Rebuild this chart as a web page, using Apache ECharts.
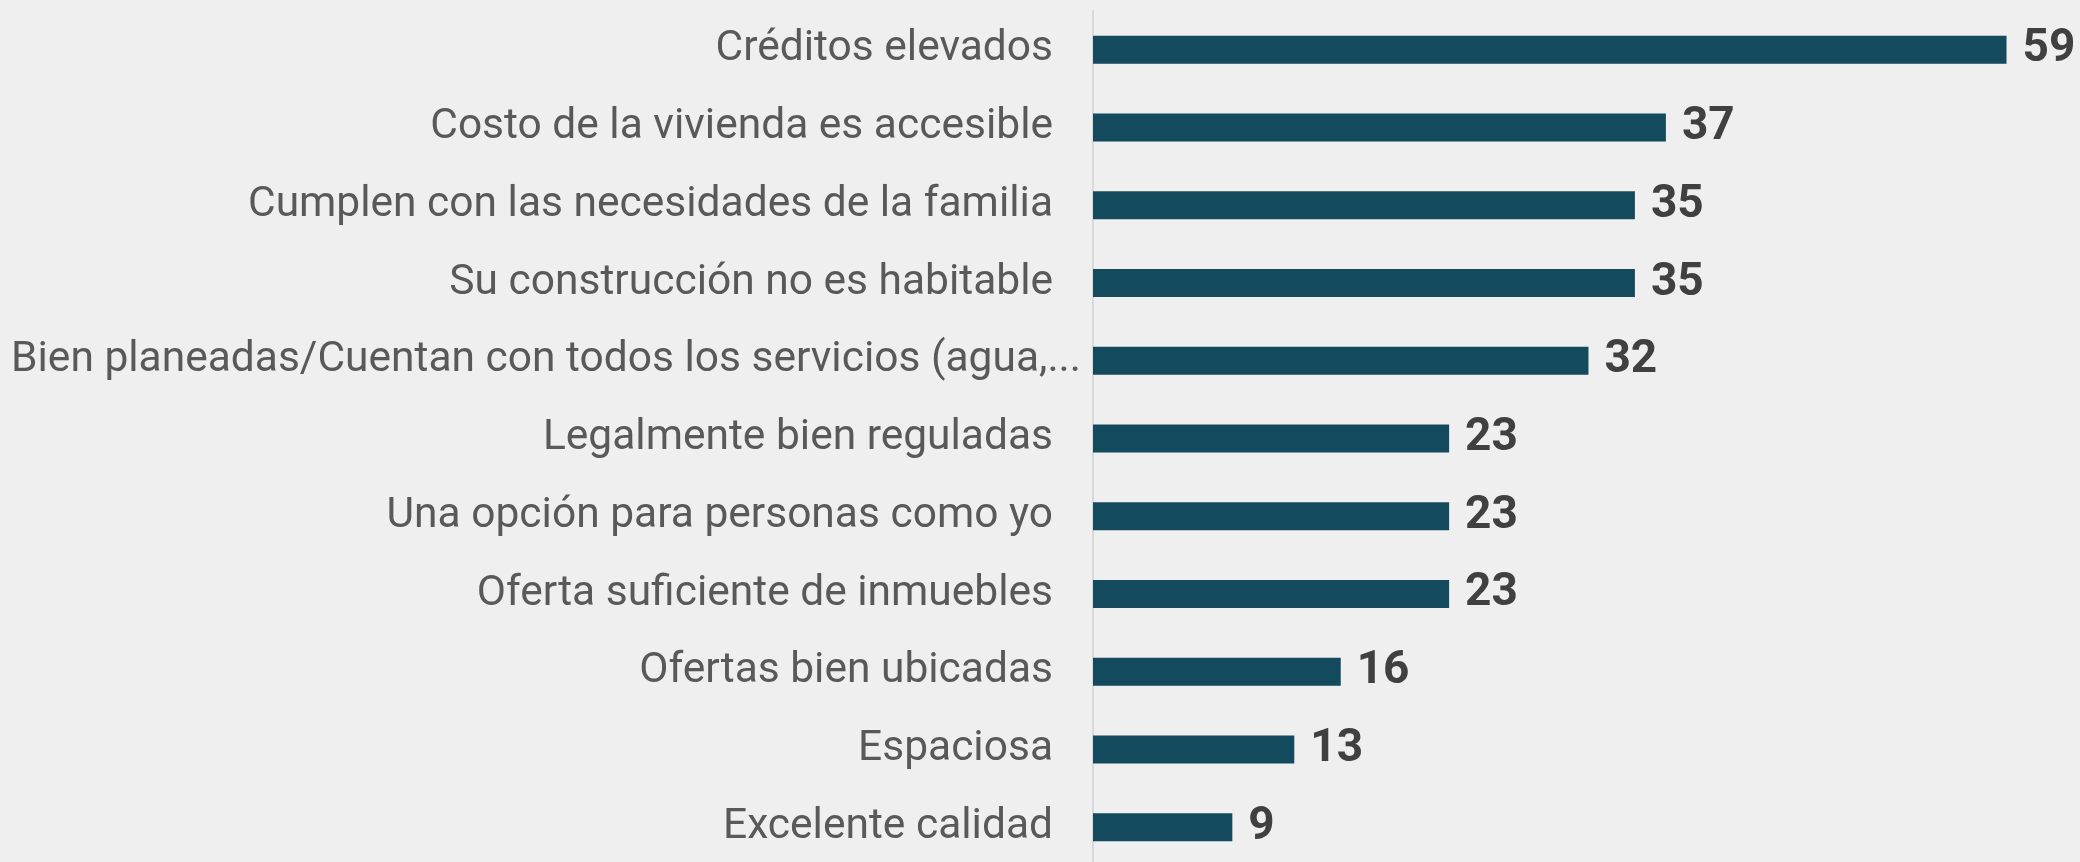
<!DOCTYPE html>
<html>
<head>
<meta charset="utf-8">
<script src="https://cdn.jsdelivr.net/npm/echarts@6/dist/echarts.min.js"></script>
<style>
  html, body { margin: 0; padding: 0; background: #efefef; overflow: hidden; }
  #chart { width: 2080px; height: 866px; }
</style>
</head>
<body>
<div id="chart"></div>
<script>
const categories = [
  'Créditos elevados',
  'Costo de la vivienda es accesible',
  'Cumplen con las necesidades de la familia',
  'Su construcción no es habitable',
  'Bien planeadas/Cuentan con todos los servicios (agua,...',
  'Legalmente bien reguladas',
  'Una opción para personas como yo',
  'Oferta suficiente de inmuebles',
  'Ofertas bien ubicadas',
  'Espaciosa',
  'Excelente calidad'
]
const values = [59, 37, 35, 35, 32, 23, 23, 23, 16, 13, 9]

// the long (cut) label spills a little past the others in the original
const catData = categories.map(function (c, i) {
  if (i === 4) {
    return { value: c, textStyle: { padding: [0, -28, 0, 0] } }
  }
  return c
})

const chart = echarts.init(document.getElementById('chart'))
chart.setOption({
  backgroundColor: '#efefef',
  animation: false,
  grid: {
    left: 1093,
    right: 58,
    top: 11,
    bottom: 0
  },
  xAxis: {
    type: 'value',
    min: 0,
    max: 60,
    show: false,
    splitLine: { show: false }
  },
  yAxis: {
    type: 'category',
    inverse: true,
    data: catData,
    axisTick: { show: false },
    axisLine: {
      lineStyle: { color: '#d9d9d9', width: 2 }
    },
    axisLabel: {
      margin: 40,
      fontFamily: 'Roboto',
      fontSize: 42.5,
      color: '#595959'
    }
  },
  series: [{
    type: 'bar',
    data: values,
    barWidth: 28,
    itemStyle: {
      color: '#134a5e'
    },
    label: {
      show: true,
      position: 'right',
      distance: 16,
      fontFamily: 'Roboto',
      fontWeight: 'bold',
      fontSize: 46,
      color: '#404040'
    }
  }]
})
</script>
</body>
</html>
